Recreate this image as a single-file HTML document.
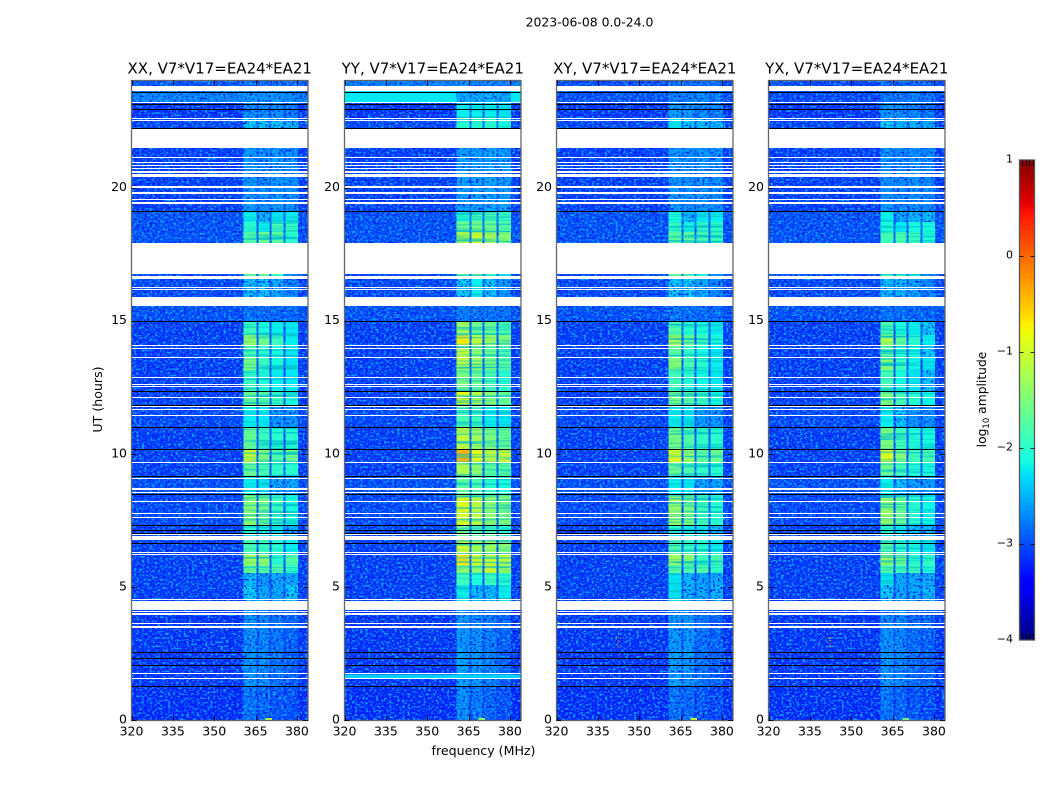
<!DOCTYPE html>
<html lang="en">
<head>
<meta charset="utf-8">
<title>2023-06-08 0.0-24.0</title>
<style>
html,body{margin:0;padding:0;background:#fff;}
#figure{display:block;width:1050px;height:800px;}
text{font-family:"DejaVu Sans","Liberation Sans",sans-serif;fill:#000;}
</style>
</head>
<body>
<svg id="figure" xmlns="http://www.w3.org/2000/svg" width="1050" height="800" viewBox="0 0 1050 800">
  <defs>
    <filter id="noise-dark" x="0" y="0" width="1" height="1" color-interpolation-filters="sRGB">
      <feTurbulence type="fractalNoise" baseFrequency="0.38 0.48" numOctaves="2" seed="4"/>
      <feColorMatrix type="matrix" values="0 0 0 0 0  0 0 0 0 0.08  0 0 0 0 0.92  4 0 0 0 -1.95"/>
    </filter>
    <filter id="noise-light" x="0" y="0" width="1" height="1" color-interpolation-filters="sRGB">
      <feTurbulence type="fractalNoise" baseFrequency="0.38 0.48" numOctaves="2" seed="11"/>
      <feColorMatrix type="matrix" values="0 0 0 0 0.05  0 0 0 0 0.68  0 0 0 0 1  0 4.4 0 0 -2.2"/>
    </filter>
    <filter id="noise-streak" x="0" y="0" width="1" height="1" color-interpolation-filters="sRGB">
      <feTurbulence type="fractalNoise" baseFrequency="0.012 0.42" numOctaves="2" seed="7"/>
      <feColorMatrix type="matrix" values="0 0 0 0 0  0 0 0 0 0.75  0 0 0 0 0.8  3.2 0 0 0 -1.45"/>
    </filter>
  </defs>
  <text x="589.5" y="26.5" font-size="12.4" text-anchor="middle">2023-06-08 0.0-24.0</text>
  <g id="panels"></g>
  <text x="483.5" y="755" font-size="12.6" text-anchor="middle">frequency (MHz)</text>
  <text x="0" y="0" font-size="12.6" text-anchor="middle" transform="translate(102,399.5) rotate(-90)">UT (hours)</text>
  <g id="colorbar"></g>
  <text x="0" y="0" font-size="12.3" text-anchor="middle" transform="translate(986,399.5) rotate(-90)">log<tspan font-size="8.5" dy="3">10</tspan><tspan dy="-3"> amplitude</tspan></text>
</svg>
<script>
// ----- axis tick values -----
const freqTicks = [320, 335, 350, 365, 380];
const utTicks = [0, 5, 10, 15, 20];
const colorTicks = [1, 0, -1, -2, -3, -4];
const panelTitles = ["XX, V7*V17=EA24*EA21", "YY, V7*V17=EA24*EA21", "XY, V7*V17=EA24*EA21", "YX, V7*V17=EA24*EA21"];
const panelKeys = ["xx", "yy", "xy", "yx"];

// ----- heatmap structure: frequency spans (MHz), UT edges of time blocks -----
const freqEdges = [320, 360.7, 365.4, 366.1, 370.1, 370.8, 375.1, 375.8, 380.3, 384];
const freqColumn = [0, 1, 5, 2, 5, 3, 5, 4, 0]; // which value in a row each span reads
const timeEdges = [0, 1.28, 2.59, 4.47, 5.07, 5.52, 5.82, 6.20, 6.76, 6.99, 7.32, 8.49, 9.16, 9.69, 10.18, 11.0, 11.83, 12.36, 13.15, 13.60, 14.08, 14.46, 14.99, 15.55, 16.56, 16.75, 17.92, 18.33, 18.70, 19.12, 21.48, 22.23, 22.61, 23.17, 23.62, 24];

// ----- log10 amplitude per time block: [background, sub1, sub2, sub3, sub4, gap] -----
const amplitudeXX = [
[-3.2,-2.8,-2.85,-2.95,-3.0,-3.15],[-3.15,-2.6,-2.65,-2.8,-2.9,-3.0],[-3.15,-2.65,-2.7,-2.8,-2.9,-3.0],
[-3.1,-2.3,-2.5,-2.5,-2.3,-3.0],[-3.1,-2.4,-2.6,-2.5,-2.5,-3.0],[-3.1,-1.6,-1.7,-1.75,-1.95,-2.95],
[-3.1,-1.25,-1.35,-2.0,-1.75,-2.9],[-3.1,-1.8,-1.9,-2.0,-2.2,-2.95],[-3.05,-2.2,-2.2,-2.24,-2.4,-2.95],
[-3.1,-2.0,-2.2,-2.24,-2.4,-2.95],[-3.05,-1.4,-1.55,-1.9,-2.1,-2.95],[-3.0,-2.2,-2.24,-2.5,-2.5,-2.95],
[-3.1,-1.6,-1.8,-1.95,-2.0,-2.95],[-3.1,-1.05,-1.45,-1.75,-1.6,-2.95],[-3.1,-1.6,-1.9,-2.0,-2.0,-2.95],
[-3.05,-2.2,-2.24,-2.6,-2.6,-3.0],[-3.1,-1.6,-1.7,-1.9,-2.1,-2.95],[-3.1,-1.9,-2.05,-2.2,-2.24,-2.95],
[-3.1,-1.5,-1.9,-2.1,-2.24,-2.95],[-3.1,-1.8,-2.0,-2.1,-2.24,-2.95],[-3.1,-1.35,-1.6,-1.9,-2.2,-2.95],
[-3.1,-1.9,-2.1,-2.2,-2.24,-2.95],[-3.0,-2.8,-2.85,-2.85,-2.85,-2.95],[-3.05,-2.4,-2.3,-2.5,-2.7,-2.9],
[-3.05,-1.6,-1.7,-1.9,-2.6,-2.9],[-3.05,-2.5,-2.5,-2.5,-2.6,-2.9],[-3.0,-1.75,-1.6,-1.7,-2.0,-2.85],
[-3.0,-2.0,-2.2,-1.85,-1.9,-2.85],[-3.0,-2.2,-2.4,-2.24,-2.2,-2.85],[-3.1,-2.6,-2.65,-2.6,-2.65,-2.9],
[-3.05,-2.5,-2.5,-2.5,-2.55,-2.9],[-3.05,-2.3,-2.3,-2.3,-2.4,-2.85],[-3.15,-2.65,-2.65,-2.65,-2.75,-3.0],
[-2.7,-2.6,-2.6,-2.6,-2.65,-2.7],[-2.95,-2.8,-2.85,-2.85,-2.85,-2.9]];

const amplitudeYY = [
[-3.2,-2.65,-2.75,-2.9,-3.0,-3.1],[-3.15,-2.55,-2.6,-2.7,-2.9,-3.0],[-3.15,-2.6,-2.65,-2.75,-2.9,-3.0],
[-3.1,-2.2,-2.4,-2.4,-2.2,-2.95],[-3.1,-1.9,-2.1,-1.9,-2.0,-2.95],[-3.1,-1.35,-1.4,-1.0,-1.3,-2.85],
[-3.1,-0.65,-0.9,-1.05,-1.1,-2.75],[-3.1,-1.0,-1.25,-1.3,-1.4,-2.85],[-3.05,-1.6,-1.7,-1.7,-1.9,-2.9],
[-3.05,-1.6,-1.8,-1.9,-2.0,-2.9],[-3.05,-0.9,-1.1,-1.4,-1.5,-2.85],[-3.0,-1.7,-1.8,-2.0,-2.1,-2.85],
[-3.1,-1.2,-1.4,-1.7,-1.7,-2.85],[-3.1,-0.4,-0.8,-1.1,-1.0,-2.85],[-3.1,-1.1,-1.3,-1.5,-1.6,-2.85],
[-3.05,-1.8,-1.9,-2.2,-2.24,-2.95],[-3.1,-0.8,-1.1,-1.4,-1.6,-2.85],[-3.1,-1.5,-1.6,-1.8,-2.0,-2.9],
[-3.1,-1.1,-1.3,-1.5,-1.7,-2.9],[-3.1,-1.1,-1.4,-1.6,-1.8,-2.9],[-3.1,-0.7,-1.1,-1.3,-1.45,-2.9],
[-3.1,-1.3,-1.6,-1.6,-1.8,-2.9],[-3.0,-2.75,-2.8,-2.8,-2.8,-2.9],[-3.05,-2.3,-2.2,-2.35,-2.6,-2.9],
[-3.05,-1.6,-1.6,-1.9,-2.24,-2.85],[-3.05,-2.5,-2.5,-2.5,-2.6,-2.9],[-3.0,-1.1,-0.95,-1.25,-1.4,-2.75],
[-3.0,-1.55,-1.5,-1.55,-1.7,-2.75],[-3.0,-2.0,-1.8,-1.8,-1.9,-2.75],[-3.1,-2.55,-2.55,-2.5,-2.55,-2.9],
[-3.05,-2.45,-2.45,-2.45,-2.5,-2.9],[-3.05,-2.0,-2.0,-2.0,-2.1,-2.85],[-3.15,-2.2,-2.2,-2.2,-2.24,-2.85],
[-2.24,-2.5,-2.5,-2.45,-2.5,-2.6],[-2.75,-2.65,-2.7,-2.7,-2.75,-2.8]];

const amplitudeXY = [
[-3.2,-2.8,-2.85,-3.0,-3.05,-3.15],[-3.15,-2.55,-2.6,-2.8,-2.9,-3.0],[-3.15,-2.6,-2.6,-2.8,-2.9,-3.0],
[-3.1,-2.25,-2.4,-2.5,-2.4,-3.0],[-3.1,-2.24,-2.4,-2.5,-2.5,-3.0],[-3.1,-1.7,-1.8,-1.75,-1.95,-2.95],
[-3.1,-1.25,-1.4,-1.9,-1.8,-2.9],[-3.1,-1.75,-1.9,-2.0,-2.2,-2.95],[-3.05,-2.2,-2.2,-2.24,-2.4,-2.95],
[-3.1,-2.0,-2.2,-2.24,-2.4,-2.95],[-3.05,-1.3,-1.5,-1.85,-2.0,-2.95],[-3.0,-2.2,-2.24,-2.5,-2.5,-2.95],
[-3.1,-1.6,-1.8,-1.95,-2.0,-2.95],[-3.1,-0.9,-1.35,-1.7,-1.6,-2.95],[-3.1,-1.5,-1.75,-1.95,-2.0,-2.95],
[-3.05,-2.2,-2.24,-2.55,-2.6,-3.0],[-3.1,-1.5,-1.7,-1.9,-2.1,-2.95],[-3.1,-1.85,-2.0,-2.15,-2.24,-2.95],
[-3.1,-1.4,-1.8,-2.0,-2.2,-2.95],[-3.1,-1.7,-1.95,-2.1,-2.24,-2.95],[-3.1,-1.2,-1.55,-1.85,-2.1,-2.95],
[-3.1,-1.75,-2.0,-2.1,-2.2,-2.95],[-3.0,-2.75,-2.8,-2.85,-2.85,-2.95],[-3.05,-2.35,-2.3,-2.5,-2.7,-2.9],
[-3.05,-1.7,-1.8,-2.0,-2.6,-2.9],[-3.05,-2.5,-2.5,-2.5,-2.6,-2.9],[-3.0,-1.7,-1.65,-1.8,-1.9,-2.85],
[-3.0,-1.95,-2.15,-1.95,-1.95,-2.85],[-3.0,-2.1,-2.4,-2.24,-2.2,-2.85],[-3.1,-2.6,-2.65,-2.6,-2.65,-2.9],
[-3.05,-2.5,-2.55,-2.55,-2.6,-2.9],[-3.05,-2.24,-2.3,-2.3,-2.4,-2.85],[-3.15,-2.55,-2.6,-2.65,-2.75,-3.0],
[-3.0,-2.75,-2.75,-2.7,-2.75,-2.85],[-3.05,-2.8,-2.85,-2.85,-2.85,-2.9]];

const amplitudeYX = [
[-3.2,-2.8,-2.9,-3.0,-3.05,-3.15],[-3.15,-2.6,-2.7,-2.85,-2.9,-3.0],[-3.15,-2.65,-2.7,-2.85,-2.9,-3.0],
[-3.1,-2.3,-2.5,-2.5,-2.4,-3.0],[-3.1,-2.24,-2.5,-2.5,-2.5,-3.0],[-3.1,-1.75,-1.85,-1.85,-2.05,-2.95],
[-3.1,-1.3,-1.5,-2.0,-1.95,-2.9],[-3.1,-1.75,-1.95,-2.1,-2.24,-2.95],[-3.05,-2.24,-2.3,-2.4,-2.5,-2.95],
[-3.1,-2.0,-2.24,-2.35,-2.45,-2.95],[-3.05,-1.35,-1.6,-2.0,-2.15,-2.95],[-3.0,-2.2,-2.35,-2.55,-2.55,-2.95],
[-3.1,-1.6,-1.85,-2.05,-2.1,-2.95],[-3.1,-0.95,-1.45,-1.85,-1.8,-2.95],[-3.1,-1.5,-1.85,-2.05,-2.1,-2.95],
[-3.05,-2.2,-2.35,-2.6,-2.65,-3.0],[-3.1,-1.5,-1.8,-2.0,-2.15,-2.95],[-3.1,-1.85,-2.1,-2.24,-2.35,-2.95],
[-3.1,-1.45,-1.9,-2.15,-2.24,-2.95],[-3.1,-1.7,-2.0,-2.15,-2.3,-2.95],[-3.1,-1.25,-1.7,-2.0,-2.2,-2.95],
[-3.1,-1.8,-2.1,-2.2,-2.3,-2.95],[-3.0,-2.8,-2.85,-2.85,-2.9,-2.95],[-3.05,-2.4,-2.4,-2.55,-2.7,-2.9],
[-3.05,-1.8,-1.9,-2.1,-2.6,-2.9],[-3.05,-2.5,-2.5,-2.5,-2.6,-2.9],[-3.0,-1.85,-1.8,-1.9,-2.05,-2.85],
[-3.0,-2.1,-2.24,-2.1,-2.1,-2.85],[-3.0,-2.2,-2.5,-2.4,-2.4,-2.85],[-3.1,-2.65,-2.7,-2.65,-2.7,-2.9],
[-3.05,-2.55,-2.55,-2.55,-2.65,-2.9],[-3.05,-2.3,-2.4,-2.4,-2.5,-2.85],[-3.15,-2.6,-2.65,-2.7,-2.8,-3.0],
[-3.05,-2.8,-2.8,-2.75,-2.8,-2.9],[-3.05,-2.85,-2.9,-2.9,-2.9,-2.95]];

const amplitudeByPanel = {xx: amplitudeXX, yy: amplitudeYY, xy: amplitudeXY, yx: amplitudeYX};

// ----- localised features: [panel, freq start, freq end, UT start, UT end, log10 amplitude] -----
const interferenceSpots = [
  ["yy", 320, 384, 1.58, 1.71, -2.35],
  ["xy", 342.2, 342.6, 3.08, 3.12, 0.1],
  ["xy", 342.2, 342.6, 2.96, 3.0, 0.2],
  ["xy", 342.2, 342.6, 2.84, 2.88, 0.1],
  ["xy", 342.2, 342.6, 2.72, 2.76, 0.0],
  ["yx", 342.2, 342.6, 3.08, 3.12, 0.1],
  ["yx", 342.2, 342.6, 2.96, 3.0, -0.3],
  ["yx", 342.2, 342.6, 2.84, 2.88, 0.1],
  ["yx", 342.2, 342.6, 2.72, 2.76, -0.2],
  ["xx", 368.5, 371, 0, 0.07, -1.1],
  ["yy", 368.5, 371, 0, 0.07, -1.4],
  ["xy", 368.5, 371, 0, 0.07, -1.0],
  ["yx", 368.5, 371, 0, 0.07, -1.5]
];

// ----- flagged time ranges in UT (white, no data) -----
const flaggedRanges = [
[23.62,23.81],[23.17,23.21],[22.57,22.61],[22.50,22.54],[21.48,22.23],[21.09,21.15],[20.92,20.96],
[20.79,20.86],[20.68,20.73],[20.54,20.62],[20.39,20.51],[20.00,20.04],[19.76,19.83],[19.53,19.57],
[19.44,19.47],[19.38,19.40],[16.75,17.92],[16.56,16.68],[16.23,16.26],[16.15,16.19],[15.55,15.89],
[14.05,14.08],[13.95,13.99],[13.60,13.63],[12.85,12.88],[12.58,12.62],[12.51,12.54],[12.09,12.13],
[11.76,11.79],[11.64,11.68],[11.42,11.46],[9.65,9.69],[9.05,9.09],[8.69,8.73],[8.62,8.66],[8.54,8.58],
[8.19,8.23],[7.74,7.77],[7.59,7.62],[6.95,6.99],[6.76,6.91],[6.27,6.31],[6.20,6.23],[4.53,4.56],
[4.13,4.47],[4.06,4.09],[3.94,4.02],[3.61,3.64],[3.47,3.53],[1.71,1.75],[1.54,1.58]];

// ----- zero-amplitude time samples in UT (black lines) -----
const zeroSamples = [23.57,23.15,22.95,22.23,19.12,14.97,12.36,11.83,11.0,10.16,9.16,8.49,7.32,7.15,7.04,6.63,2.57,2.33,2.05,1.28];

// ----- layout -----
const panelLeft = [131.5, 344.5, 556.5, 768.5];
const plotWidth = 176.5;
const frameBottom = 720.5;
const frameTop = 80.5;
const freqMin = 320, freqMax = 384, utMax = 24, colorMin = -4, colorMax = 1;
const noiseThreshold = -2.25;
const SVG_NS = "http://www.w3.org/2000/svg";

function xScale(left, f){ return left + (f - freqMin) / (freqMax - freqMin) * plotWidth; }
function yScale(t){ return 720 - t / utMax * 639; }

function ramp(points, v){
  for (let i = 1; i < points.length; i++) {
    if (v <= points[i][0]) {
      const a = points[i-1], b = points[i];
      return a[1] + (b[1]-a[1]) * (v-a[0]) / (b[0]-a[0]);
    }
  }
  return points[points.length-1][1];
}
function jet(level){
  const v = Math.max(0, Math.min(1, (level - colorMin) / (colorMax - colorMin)));
  const r = ramp([[0,0],[.35,0],[.66,1],[.89,1],[1,.5]], v);
  const g = ramp([[0,0],[.125,0],[.375,1],[.64,1],[.91,0],[1,0]], v);
  const b = ramp([[0,.5],[.11,1],[.34,1],[.65,0],[1,0]], v);
  return "rgb(" + Math.round(r*255) + "," + Math.round(g*255) + "," + Math.round(b*255) + ")";
}
function make(tag, attrs, parent){
  const el = document.createElementNS(SVG_NS, tag);
  for (const k in attrs) el.setAttribute(k, attrs[k]);
  parent.appendChild(el);
  return el;
}

const panelsRoot = document.getElementById("panels");

panelKeys.forEach(function(key, p){
  const left = panelLeft[p];
  const right = left + plotWidth;
  const g = make("g", {}, panelsRoot);
  
  

  const title = make("text", {x: left + plotWidth/2, y: 73.5, "font-size": 15, "text-anchor": "middle"}, g);
  title.textContent = panelTitles[p];
  
  

  const values = amplitudeByPanel[key];
  const heatDim = make("g", {"shape-rendering": "crispEdges"}, g);
  
  

  const noiseD = make("rect", {x: left, y: frameTop, width: plotWidth, height: frameBottom-frameTop, filter: "url(#noise-dark)"}, g);
  
  
  const noiseL = make("rect", {x: left, y: frameTop, width: plotWidth, height: frameBottom-frameTop, filter: "url(#noise-light)"}, g);
  
  

  const heatBright = make("g", {"shape-rendering": "crispEdges"}, g);
  
  

  const brightClip = make("clipPath", {id: "bright-clip-" + key}, g);
  
  

  for (let r = 0; r < values.length; r++) {
    const yA = Math.round(yScale(timeEdges[r+1]));
    const yB = Math.round(yScale(timeEdges[r]));
    for (let c = 0; c < freqColumn.length; c++) {
      const level = values[r][freqColumn[c]];
      const xA = xScale(left, freqEdges[c]);
      const xB = xScale(left, freqEdges[c+1]);
      const isBright = level >= noiseThreshold;
      const cell = make("rect", {x: xA, y: yA, width: xB-xA, height: yB-yA, fill: jet(level)}, isBright ? heatBright : heatDim);
      
      
      if (isBright && freqColumn[c] !== 5 && freqColumn[c] !== 0) {
        const clipCell = make("rect", {x: xA, y: yA, width: xB-xA, height: yB-yA}, brightClip);
        
        
      }
    }
  }

  const streakA = xScale(left, freqEdges[1]);
  const streakB = xScale(left, freqEdges[8]);
  const streakWrap = make("g", {"clip-path": "url(#bright-clip-" + key + ")"}, g);
  
  
  const streak = make("rect", {x: streakA, y: frameTop, width: streakB-streakA, height: frameBottom-frameTop, filter: "url(#noise-streak)"}, streakWrap);
  
  

  const spots = make("g", {"shape-rendering": "crispEdges"}, g);
  
  
  interferenceSpots.filter(function(s){ return s[0] === key; }).forEach(function(s){
    const xA = xScale(left, s[1]), xB = xScale(left, s[2]);
    const yA = yScale(s[4]), yB = yScale(s[3]);
    const spot = make("rect", {x: xA, y: yA, width: xB-xA, height: yB-yA, fill: jet(s[5])}, spots);
    
    
  });

  const flags = make("g", {"shape-rendering": "crispEdges"}, g);
  
  
  flaggedRanges.forEach(function(rng){
    const yA = Math.round(yScale(rng[1]));
    const yB = Math.max(yA + 1, Math.round(yScale(rng[0])));
    const band = make("rect", {x: left, y: yA, width: plotWidth, height: yB-yA, fill: "#fff"}, flags);
    
    
  });
  zeroSamples.forEach(function(t){
    const line = make("rect", {x: left, y: Math.round(yScale(t)), width: plotWidth, height: 1, fill: "#000"}, flags);
    
    
  });

  const frame = make("rect", {x: left, y: frameTop, width: plotWidth, height: frameBottom-frameTop, fill: "none", stroke: "#666", "stroke-width": 1.3}, g);
  
  

  freqTicks.forEach(function(f){
    const x = Math.round(xScale(left, f)) + 0.5;
    const t1 = make("line", {x1: x, x2: x, y1: frameBottom, y2: frameBottom-5, stroke: "#000", "stroke-width": 0.8}, g);
    
    
    const t2 = make("line", {x1: x, x2: x, y1: frameTop, y2: frameTop+5, stroke: "#000", "stroke-width": 0.8}, g);
    
    
    const lab = make("text", {x: xScale(left, f), y: 735.5, "font-size": 12.5, "text-anchor": "middle"}, g);
    lab.textContent = String(f);
    
    
  });
  utTicks.forEach(function(t){
    const y = Math.round(yScale(t)) + 0.5;
    const t1 = make("line", {x1: left, x2: left+5, y1: y, y2: y, stroke: "#000", "stroke-width": 0.8}, g);
    
    
    const t2 = make("line", {x1: right, x2: right-5, y1: y, y2: y, stroke: "#000", "stroke-width": 0.8}, g);
    
    
    const lab = make("text", {x: left-4.5, y: yScale(t)+3.5, "font-size": 12.5, "text-anchor": "end"}, g);
    lab.textContent = String(t);
    
    
  });
});

// ----- colorbar -----
const cbRoot = document.getElementById("colorbar");
const cbX = 1019.5, cbW = 15, cbTop = 160, cbBottom = 640;
function cbY(level){ return cbBottom - (level - colorMin) / (colorMax - colorMin) * (cbBottom - cbTop); }
const cbSteps = 240;
const cbG = make("g", {"shape-rendering": "crispEdges"}, cbRoot);
for (let i = 0; i < cbSteps; i++) {
  const level = colorMin + (colorMax - colorMin) * (i + 0.5) / cbSteps;
  const step = make("rect", {x: cbX, y: cbY(colorMin + (colorMax-colorMin)*(i+1)/cbSteps), width: cbW, height: (cbBottom-cbTop)/cbSteps + 0.5, fill: jet(level)}, cbG);
  
  
}
const cbFrame = make("rect", {x: cbX, y: cbTop, width: cbW, height: cbBottom-cbTop, fill: "none", stroke: "#555", "stroke-width": 1.3}, cbRoot);


colorTicks.forEach(function(v){
  const y = Math.round(cbY(v)) + 0.5;
  if (v < colorMax && v > colorMin) {
    const tl = make("line", {x1: cbX, x2: cbX+4, y1: y, y2: y, stroke: "#000", "stroke-width": 0.8}, cbRoot);
    
    
    const tr = make("line", {x1: cbX+cbW, x2: cbX+cbW-4, y1: y, y2: y, stroke: "#000", "stroke-width": 0.8}, cbRoot);
    
    
  }
  const lab = make("text", {x: 1013, y: cbY(v)+2.5, "font-size": 11, "text-anchor": "end"}, cbRoot);
  lab.textContent = (v < 0 ? "\u2212" : "") + Math.abs(v);
  
  
});
[0.15, 0.4, 0.65, 0.9].forEach(function(frac){
  const x = Math.round(cbX + cbW*frac) + 0.5;
  const top = make("line", {x1: x, x2: x, y1: cbTop, y2: cbTop+6, stroke: "#000", "stroke-width": 0.7}, cbRoot);
  
  
  const bot = make("line", {x1: x, x2: x, y1: cbBottom, y2: cbBottom-6, stroke: "#000", "stroke-width": 0.7}, cbRoot);
  
  
});
const dots = make("text", {x: 1026, y: 647, "font-size": 5, "text-anchor": "middle", "letter-spacing": "1.4", style: "fill:#888"}, cbRoot);
dots.textContent = "......";


</script>
</body>
</html>
